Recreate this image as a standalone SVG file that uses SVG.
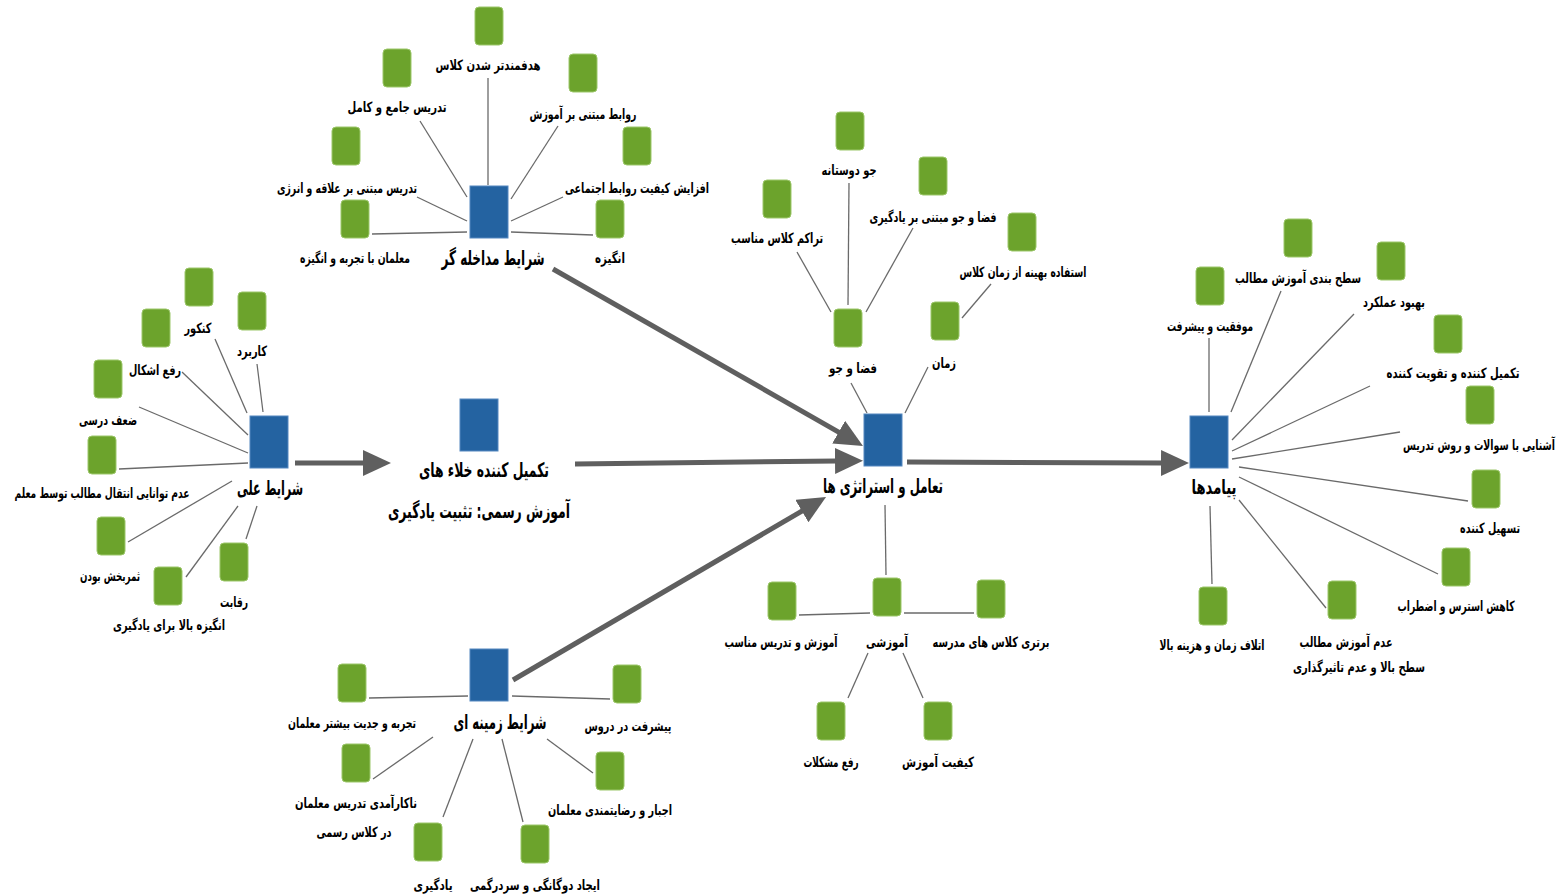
<svg xmlns="http://www.w3.org/2000/svg" width="1563" height="896" viewBox="0 0 1563 896">
<defs>
<style>
.g{fill:#6ca32c;stroke:#9cc76a;stroke-width:1}
.b{fill:#2463a1;stroke:#5588c0;stroke-width:1}
.t{font-family:"DejaVu Sans Condensed","DejaVu Sans","Noto Sans",sans-serif;font-weight:bold;font-size:14px;fill:#000;text-anchor:middle}
.m{font-family:"DejaVu Sans Condensed","DejaVu Sans","Noto Sans",sans-serif;font-weight:bold;font-size:20px;fill:#000;text-anchor:middle}
.ln{stroke:#6a6a6a;stroke-width:1.3;fill:none}
.ar{stroke:#5f5f5f;stroke-width:5;fill:none;marker-end:url(#ah)}
</style>
<marker id="ah" markerUnits="userSpaceOnUse" markerWidth="30" markerHeight="28" refX="2" refY="13" orient="auto">
<path d="M0,0 L28,13 L0,26 z" fill="#5f5f5f"/>
</marker>
</defs>
<rect width="1563" height="896" fill="#fff"/>

<g id="connectors">
<line class="ar" x1="295" y1="463" x2="365" y2="463"/>
<line class="ar" x1="575" y1="464" x2="837" y2="461"/>
<line class="ar" x1="553" y1="269" x2="840.4" y2="433.1"/>
<line class="ar" x1="513" y1="680" x2="803.6" y2="510.1"/>
<line class="ar" x1="907" y1="462" x2="1163" y2="463"/>

<line class="ln" x1="488" y1="78" x2="488" y2="185"/>
<line class="ln" x1="420" y1="121" x2="467" y2="197"/>
<line class="ln" x1="558" y1="126" x2="511" y2="199"/>
<line class="ln" x1="417" y1="197" x2="467" y2="221"/>
<line class="ln" x1="563" y1="197" x2="511" y2="221"/>
<line class="ln" x1="372" y1="234" x2="467" y2="232"/>
<line class="ln" x1="511" y1="232" x2="593" y2="235"/>

<line class="ln" x1="215" y1="339" x2="247" y2="413"/>
<line class="ln" x1="257" y1="364" x2="263" y2="412"/>
<line class="ln" x1="182" y1="372" x2="248" y2="435"/>
<line class="ln" x1="139" y1="407" x2="248" y2="453"/>
<line class="ln" x1="119" y1="469" x2="248" y2="463"/>
<line class="ln" x1="128" y1="542" x2="232" y2="481"/>
<line class="ln" x1="186" y1="577" x2="238" y2="506"/>
<line class="ln" x1="246" y1="539" x2="257" y2="506"/>

<line class="ln" x1="369" y1="698" x2="468" y2="696"/>
<line class="ln" x1="512" y1="696" x2="610" y2="699"/>
<line class="ln" x1="373" y1="779" x2="433" y2="737"/>
<line class="ln" x1="443" y1="817" x2="473" y2="739"/>
<line class="ln" x1="523" y1="822" x2="502" y2="739"/>
<line class="ln" x1="593" y1="773" x2="547" y2="739"/>

<line class="ln" x1="851" y1="383" x2="867" y2="413"/>
<line class="ln" x1="928" y1="367" x2="905" y2="413"/>
<line class="ln" x1="885" y1="505" x2="886" y2="575"/>
<line class="ln" x1="849" y1="183" x2="848" y2="305"/>
<line class="ln" x1="797" y1="252" x2="831" y2="312"/>
<line class="ln" x1="913" y1="228" x2="866" y2="312"/>
<line class="ln" x1="991" y1="284" x2="962" y2="318"/>
<line class="ln" x1="799" y1="615" x2="870" y2="613"/>
<line class="ln" x1="904" y1="613" x2="974" y2="613"/>
<line class="ln" x1="868" y1="653" x2="848" y2="698"/>
<line class="ln" x1="903" y1="653" x2="923" y2="698"/>

<line class="ln" x1="1209" y1="338" x2="1209" y2="412"/>
<line class="ln" x1="1281" y1="291" x2="1231" y2="412"/>
<line class="ln" x1="1354" y1="314" x2="1232" y2="440"/>
<line class="ln" x1="1370" y1="386" x2="1232" y2="451"/>
<line class="ln" x1="1400" y1="432" x2="1232" y2="459"/>
<line class="ln" x1="1239" y1="467" x2="1468" y2="501"/>
<line class="ln" x1="1239" y1="477" x2="1438" y2="574"/>
<line class="ln" x1="1239" y1="500" x2="1326" y2="608"/>
<line class="ln" x1="1210" y1="506" x2="1212" y2="584"/>
</g>

<!-- main nodes -->
<g id="n-modakhele"><rect class="b" x="470" y="186" width="38" height="52"/><text class="m" x="493" y="265" direction="rtl" textLength="103" lengthAdjust="spacingAndGlyphs">شرایط مداخله گر</text></g>
<g id="n-elli"><rect class="b" x="250" y="416" width="38" height="52"/><text class="m" x="270" y="495" direction="rtl" textLength="66" lengthAdjust="spacingAndGlyphs">شرایط علی</text></g>
<g id="n-center"><rect class="b" x="460" y="399" width="38" height="52"/><text class="m" x="484" y="477" direction="rtl" textLength="130" lengthAdjust="spacingAndGlyphs">تکمیل کننده خلاء های</text><text class="m" x="479" y="518" direction="rtl" textLength="182" lengthAdjust="spacingAndGlyphs">آموزش رسمی: تثبیت یادگیری</text></g>
<g id="n-zamine"><rect class="b" x="470" y="649" width="38" height="52"/><text class="m" x="500" y="729" direction="rtl" textLength="93" lengthAdjust="spacingAndGlyphs">شرایط زمینه ای</text></g>
<g id="n-taamol"><rect class="b" x="864" y="414" width="38" height="52"/><text class="m" x="883" y="493" direction="rtl" textLength="120" lengthAdjust="spacingAndGlyphs">تعامل و استراتژی ها</text></g>
<g id="n-payamad"><rect class="b" x="1190" y="416" width="38" height="52"/><text class="m" x="1214" y="494" direction="rtl" textLength="45" lengthAdjust="spacingAndGlyphs">پیامدها</text></g>

<!-- modakhele children -->
<g id="c1"><rect class="g" x="475" y="7" width="28" height="38" rx="4"/><text class="t" x="488" y="70" direction="rtl" textLength="105" lengthAdjust="spacingAndGlyphs">هدفمندتر شدن کلاس</text></g>
<g id="c2"><rect class="g" x="383" y="49" width="28" height="38" rx="4"/><text class="t" x="397" y="112" direction="rtl" textLength="99" lengthAdjust="spacingAndGlyphs">تدریس جامع و کامل</text></g>
<g id="c3"><rect class="g" x="569" y="54" width="28" height="38" rx="4"/><text class="t" x="583" y="119" direction="rtl" textLength="107" lengthAdjust="spacingAndGlyphs">روابط مبتنی بر آموزش</text></g>
<g id="c4"><rect class="g" x="332" y="127" width="28" height="38" rx="4"/><text class="t" x="347" y="193" direction="rtl" textLength="140" lengthAdjust="spacingAndGlyphs">تدریس مبتنی بر علاقه و انرژی</text></g>
<g id="c5"><rect class="g" x="623" y="127" width="28" height="38" rx="4"/><text class="t" x="637" y="193" direction="rtl" textLength="144" lengthAdjust="spacingAndGlyphs">افزایش کیفیت روابط اجتماعی</text></g>
<g id="c6"><rect class="g" x="341" y="200" width="28" height="38" rx="4"/><text class="t" x="355" y="263" direction="rtl" textLength="110" lengthAdjust="spacingAndGlyphs">معلمان با تجربه و انگیزه</text></g>
<g id="c7"><rect class="g" x="596" y="200" width="28" height="38" rx="4"/><text class="t" x="610" y="263" direction="rtl" textLength="30" lengthAdjust="spacingAndGlyphs">انگیزه</text></g>

<!-- elli children -->
<g id="c8"><rect class="g" x="185" y="268" width="28" height="38" rx="4"/><text class="t" x="198" y="333" direction="rtl" textLength="27" lengthAdjust="spacingAndGlyphs">کنکور</text></g>
<g id="c9"><rect class="g" x="238" y="292" width="28" height="38" rx="4"/><text class="t" x="252" y="356" direction="rtl" textLength="30" lengthAdjust="spacingAndGlyphs">کاربرد</text></g>
<g id="c10"><rect class="g" x="142" y="309" width="28" height="38" rx="4"/><text class="t" x="155" y="375" direction="rtl" textLength="52" lengthAdjust="spacingAndGlyphs">رفع اشکال</text></g>
<g id="c11"><rect class="g" x="94" y="360" width="28" height="38" rx="4"/><text class="t" x="108" y="425" direction="rtl" textLength="58" lengthAdjust="spacingAndGlyphs">ضعف درسی</text></g>
<g id="c12"><rect class="g" x="88" y="436" width="28" height="38" rx="4"/><text class="t" x="102" y="498" direction="rtl" textLength="175" lengthAdjust="spacingAndGlyphs">عدم توانایی انتقال مطالب توسط معلم</text></g>
<g id="c13"><rect class="g" x="97" y="517" width="28" height="38" rx="4"/><text class="t" x="110" y="581" direction="rtl" textLength="60" lengthAdjust="spacingAndGlyphs">ثمربخش بودن</text></g>
<g id="c14"><rect class="g" x="154" y="567" width="28" height="38" rx="4"/><text class="t" x="169" y="630" direction="rtl" textLength="112" lengthAdjust="spacingAndGlyphs">انگیزه بالا برای یادگیری</text></g>
<g id="c15"><rect class="g" x="220" y="543" width="28" height="38" rx="4"/><text class="t" x="234" y="607" direction="rtl" textLength="28" lengthAdjust="spacingAndGlyphs">رقابت</text></g>

<!-- zamine children -->
<g id="c16"><rect class="g" x="338" y="664" width="28" height="38" rx="4"/><text class="t" x="352" y="728" direction="rtl" textLength="128" lengthAdjust="spacingAndGlyphs">تجربه و جدیت بیشتر معلمان</text></g>
<g id="c17"><rect class="g" x="613" y="665" width="28" height="38" rx="4"/><text class="t" x="628" y="731" direction="rtl" textLength="87" lengthAdjust="spacingAndGlyphs">پیشرفت در دروس</text></g>
<g id="c18"><rect class="g" x="342" y="744" width="28" height="38" rx="4"/><text class="t" x="356" y="808" direction="rtl" textLength="122" lengthAdjust="spacingAndGlyphs">ناکارآمدی تدریس معلمان</text><text class="t" x="354" y="837" direction="rtl" textLength="75" lengthAdjust="spacingAndGlyphs">در کلاس رسمی</text></g>
<g id="c19"><rect class="g" x="414" y="823" width="28" height="38" rx="4"/><text class="t" x="433" y="890" direction="rtl" textLength="39" lengthAdjust="spacingAndGlyphs">یادگیری</text></g>
<g id="c20"><rect class="g" x="521" y="825" width="28" height="38" rx="4"/><text class="t" x="535" y="890" direction="rtl" textLength="130" lengthAdjust="spacingAndGlyphs">ایجاد دوگانگی و سردرگمی</text></g>
<g id="c21"><rect class="g" x="596" y="752" width="28" height="38" rx="4"/><text class="t" x="610" y="815" direction="rtl" textLength="124" lengthAdjust="spacingAndGlyphs">اجبار و رضایتمندی معلمان</text></g>

<!-- taamol children -->
<g id="c22"><rect class="g" x="836" y="112" width="28" height="38" rx="4"/><text class="t" x="849" y="175" direction="rtl" textLength="55" lengthAdjust="spacingAndGlyphs">جو دوستانه</text></g>
<g id="c23"><rect class="g" x="763" y="180" width="28" height="38" rx="4"/><text class="t" x="777" y="243" direction="rtl" textLength="92" lengthAdjust="spacingAndGlyphs">تراکم کلاس مناسب</text></g>
<g id="c24"><rect class="g" x="919" y="157" width="28" height="38" rx="4"/><text class="t" x="933" y="222" direction="rtl" textLength="127" lengthAdjust="spacingAndGlyphs">فضا و جو مبتنی بر یادگیری</text></g>
<g id="c25"><rect class="g" x="1008" y="213" width="28" height="38" rx="4"/><text class="t" x="1023" y="277" direction="rtl" textLength="127" lengthAdjust="spacingAndGlyphs">استفاده بهینه از زمان کلاس</text></g>
<g id="c26"><rect class="g" x="834" y="309" width="28" height="38" rx="4"/><text class="t" x="853" y="373" direction="rtl" textLength="48" lengthAdjust="spacingAndGlyphs">فضا و جو</text></g>
<g id="c27"><rect class="g" x="931" y="302" width="28" height="38" rx="4"/><text class="t" x="944" y="368" direction="rtl" textLength="24" lengthAdjust="spacingAndGlyphs">زمان</text></g>
<g id="c28"><rect class="g" x="873" y="578" width="28" height="38" rx="4"/><text class="t" x="887" y="647" direction="rtl" textLength="42" lengthAdjust="spacingAndGlyphs">آموزشی</text></g>
<g id="c29"><rect class="g" x="768" y="582" width="28" height="38" rx="4"/><text class="t" x="781" y="647" direction="rtl" textLength="113" lengthAdjust="spacingAndGlyphs">آموزش و تدریس مناسب</text></g>
<g id="c30"><rect class="g" x="977" y="580" width="28" height="38" rx="4"/><text class="t" x="991" y="647" direction="rtl" textLength="117" lengthAdjust="spacingAndGlyphs">برتری کلاس های مدرسه</text></g>
<g id="c31"><rect class="g" x="817" y="702" width="28" height="38" rx="4"/><text class="t" x="831" y="767" direction="rtl" textLength="55" lengthAdjust="spacingAndGlyphs">رفع مشکلات</text></g>
<g id="c32"><rect class="g" x="924" y="702" width="28" height="38" rx="4"/><text class="t" x="938" y="767" direction="rtl" textLength="72" lengthAdjust="spacingAndGlyphs">کیفیت آموزش</text></g>

<!-- payamad children -->
<g id="c33"><rect class="g" x="1196" y="267" width="28" height="38" rx="4"/><text class="t" x="1210" y="331" direction="rtl" textLength="86" lengthAdjust="spacingAndGlyphs">موفقیت و پیشرفت</text></g>
<g id="c34"><rect class="g" x="1284" y="219" width="28" height="38" rx="4"/><text class="t" x="1298" y="283" direction="rtl" textLength="126" lengthAdjust="spacingAndGlyphs">سطح بندی آموزش مطالب</text></g>
<g id="c35"><rect class="g" x="1377" y="242" width="28" height="38" rx="4"/><text class="t" x="1394" y="307" direction="rtl" textLength="62" lengthAdjust="spacingAndGlyphs">بهبود عملکرد</text></g>
<g id="c36"><rect class="g" x="1434" y="315" width="28" height="38" rx="4"/><text class="t" x="1453" y="378" direction="rtl" textLength="133" lengthAdjust="spacingAndGlyphs">تکمیل کننده و تقویت کننده</text></g>
<g id="c37"><rect class="g" x="1466" y="386" width="28" height="38" rx="4"/><text class="t" x="1479" y="450" direction="rtl" textLength="152" lengthAdjust="spacingAndGlyphs">آشنایی با سوالات و روش تدریس</text></g>
<g id="c38"><rect class="g" x="1472" y="470" width="28" height="38" rx="4"/><text class="t" x="1490" y="533" direction="rtl" textLength="60" lengthAdjust="spacingAndGlyphs">تسهیل کننده</text></g>
<g id="c39"><rect class="g" x="1442" y="548" width="28" height="38" rx="4"/><text class="t" x="1456" y="611" direction="rtl" textLength="117" lengthAdjust="spacingAndGlyphs">کاهش استرس و اضطراب</text></g>
<g id="c40"><rect class="g" x="1328" y="581" width="28" height="38" rx="4"/><text class="t" x="1346" y="647" direction="rtl" textLength="93" lengthAdjust="spacingAndGlyphs">عدم آموزش مطالب</text><text class="t" x="1359" y="672" direction="rtl" textLength="132" lengthAdjust="spacingAndGlyphs">سطح بالا و عدم تاثیرگذاری</text></g>
<g id="c41"><rect class="g" x="1199" y="587" width="28" height="38" rx="4"/><text class="t" x="1212" y="650" direction="rtl" textLength="105" lengthAdjust="spacingAndGlyphs">اتلاف زمان و هزینه بالا</text></g>
</svg>
